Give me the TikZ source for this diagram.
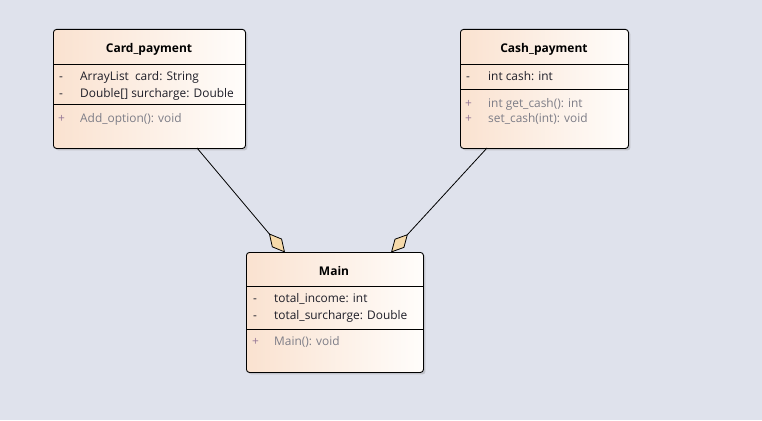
\documentclass[tikz,border=0pt]{standalone}
\usepackage{fontspec}
\setmainfont{Open Sans}
\usetikzlibrary{arrows.meta,shadows}
\definecolor{bg}{RGB}{223,226,236}
\definecolor{peach}{RGB}{250,226,208}
\definecolor{paper}{RGB}{255,253,251}
\definecolor{attr}{RGB}{30,30,40}
\definecolor{oper}{RGB}{125,125,135}
\definecolor{opsym}{RGB}{150,120,150}
\definecolor{diam}{RGB}{246,218,170}
\tikzset{
  classbox/.style={draw=black, line width=0.9pt, rounded corners=3pt, left color=peach, right color=paper,
    drop shadow={opacity=0.25, shadow xshift=2pt, shadow yshift=-2pt, fill=black!60},
    anchor=north west, inner sep=0pt},
  title/.style={font=\fontsize{12}{14}\selectfont\bfseries, text=black, anchor=base, inner sep=0pt},
  attrtxt/.style={font=\fontsize{11.9}{13}\selectfont, text=attr, anchor=base west, inner sep=0pt},
  opertxt/.style={font=\fontsize{11.9}{13}\selectfont, text=oper, anchor=base west, inner sep=0pt},
  opsymb/.style={font=\fontsize{11.9}{13}\selectfont, text=opsym, anchor=base west, inner sep=0pt},
  sep/.style={draw=black, line width=0.9pt},
  assoc/.style={draw=black, line width=0.8pt, -{Diamond[fill=diam, length=25pt, width=13pt, line width=0.8pt]}}
}
\begin{document}
\begin{tikzpicture}[x=1pt,y=-1pt]
\useasboundingbox[fill=bg] (0,0) rectangle (762,420);
% Card_payment
\node[classbox, minimum width=192pt, minimum height=119pt] (card) at (53,29) {};
\draw[sep] (53,64) -- (245,64);
\draw[sep] (53,104) -- (245,104);
\node[title] (cardt) at (149,52.5) {Card\_payment};
\node[attrtxt] (cards1) at (59,81) {-};
\node[attrtxt] (carda1) at (80,81) {ArrayList\ \ card: String};
\node[attrtxt] (cards2) at (59,97) {-};
\node[attrtxt] (carda2) at (80,97) {Double[] surcharge: Double};
\node[opsymb] (cardo1s) at (58,122) {+};
\node[opertxt] (cardo1) at (80,122) {Add\_option(): void};
% Cash_payment
\node[classbox, minimum width=168pt, minimum height=119pt] (cash) at (460,29) {};
\draw[sep] (460,64) -- (628,64);
\draw[sep] (460,89) -- (628,89);
\node[title] (casht) at (544,52.5) {Cash\_payment};
\node[attrtxt] (cashs1) at (466,81) {-};
\node[attrtxt] (casha1) at (488,81) {int cash: int};
\node[opsymb] (casho1s) at (465,107) {+};
\node[opertxt] (casho1) at (488,107) {int get\_cash(): int};
\node[opsymb] (casho2s) at (465,122) {+};
\node[opertxt] (casho2) at (488,122) {set\_cash(int): void};
% Main
\node[classbox, minimum width=177pt, minimum height=120pt] (main) at (246,252) {};
\draw[sep] (246,286) -- (423,286);
\draw[sep] (246,329) -- (423,329);
\node[title] (maint) at (334,275) {Main};
\node[attrtxt] (mains1) at (253,302) {-};
\node[attrtxt] (maina1) at (274,302) {total\_income: int};
\node[attrtxt] (mains2) at (253,319) {-};
\node[attrtxt] (maina2) at (274,319) {total\_surcharge: Double};
\node[opsymb] (maino1s) at (252,345) {+};
\node[opertxt] (maino1) at (274,345) {Main(): void};
% connectors
\coordinate (cardb) at (197,148);
\coordinate (mainl) at (285,252.5);
\coordinate (cashb) at (487,148);
\coordinate (mainr) at (391,252.5);
\draw[assoc] (cardb) -- (mainl);
\draw[assoc] (cashb) -- (mainr);
\end{tikzpicture}
\end{document}
